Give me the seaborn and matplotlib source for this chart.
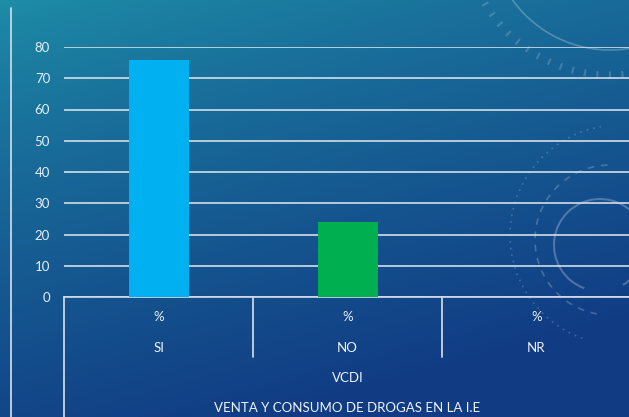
import numpy as np
import pandas as pd
import seaborn as sns
import matplotlib.pyplot as plt
from matplotlib.patches import Arc, Circle
from matplotlib.lines import Line2D

# ---- data ----
categories = ["SI", "NO", "NR"]
values = [76, 24, 0]
unit_labels = ["%", "%", "%"]
group_label = "VCDI"
axis_title = "VENTA Y CONSUMO DE DROGAS EN LA I.E"
yticks = [0, 10, 20, 30, 40, 50, 60, 70, 80]
bar_colors = ["#00B0F0", "#00B050", "#A5A5A5"]

df = pd.DataFrame({"cat": categories, "val": values})

sns.set_theme(style="white")
plt.rcParams['font.family'] = ['Lato', 'DejaVu Sans']

W, H = 629, 417
fig = plt.figure(figsize=(W / 100, H / 100), dpi=100)

# ---- gradient background ----
bg = fig.add_axes([0, 0, 1, 1])
bg.set_axis_off()
yy, xx = np.mgrid[0:H, 0:W]
t = np.clip(0.85 * yy / H + 0.35 * xx / W, 0, 1) ** 0.8
c0 = np.array([30, 142, 168]) / 255.0
c1 = np.array([17, 60, 132]) / 255.0
img = c0[None, None, :] * (1 - t[..., None]) + c1[None, None, :] * t[..., None]
bg.imshow(img, extent=[0, W, H, 0], aspect='auto', zorder=0)
bg.set_xlim(0, W)
bg.set_ylim(H, 0)

# decorative faint shapes (y axis inverted: angles measured clockwise on screen)
bg.add_patch(Arc((610, -70), 240, 240, theta1=40, theta2=150, color='white', alpha=0.25, lw=1.2))
bg.add_patch(Arc((610, -70), 290, 290, theta1=60, theta2=170, color='white', alpha=0.18, lw=5, ls=(0, (0.3, 1.5))))
bg.add_patch(Arc((600, 245), 92, 92, theta1=110, theta2=420, color='white', alpha=0.25, lw=1.5))
bg.add_patch(Arc((610, 240), 150, 150, theta1=100, theta2=270, color='white', alpha=0.22, lw=1.2, ls=(0, (4, 4))))
bg.add_patch(Arc((620, 235), 220, 220, theta1=110, theta2=260, color='white', alpha=0.2, lw=1.2, ls=(0, (1, 3))))

# outer frame line
bg.add_line(Line2D([11, 11], [8, H], color='#c8d6e6', lw=1.3))

# ---- chart axes ----
ax = fig.add_axes([64 / W, 120 / H, 567 / W, 250 / H])
ax.set_facecolor('none')
sns.barplot(data=df, x="cat", y="val", hue="cat", palette=bar_colors,
            width=60 / 189, legend=False, ax=ax, zorder=3, saturation=1,
            linewidth=0, edgecolor='none')

ax.set_xlim(-0.5, 2.5)
ax.set_ylim(0, 80)
ax.set_yticks(yticks)
ax.set_yticklabels([str(v) for v in yticks], color='#e6eef6', fontsize=9.5)
ax.tick_params(axis='y', length=0, pad=10)
ax.set_xticks([])
ax.set_xlabel("")
ax.set_ylabel("")
ax.yaxis.grid(True, color='#d2dee8', lw=1.2)
ax.set_axisbelow(True)
for s in ['left', 'right', 'top']:
    ax.spines[s].set_visible(False)
ax.spines['bottom'].set_color('#d2dee8')
ax.spines['bottom'].set_linewidth(1.2)

tr = ax.get_xaxis_transform()
lc = '#c8d6e6'
# multi-level category dividers
ax.add_line(Line2D([-0.5, -0.5], [0, -0.48], transform=tr, color=lc, lw=1.3, clip_on=False))
for xd in [0.5, 1.5]:
    ax.add_line(Line2D([xd, xd], [0, -0.24], transform=tr, color=lc, lw=1.3, clip_on=False))

tc = '#eef3f8'
for i, (u, c) in enumerate(zip(unit_labels, categories)):
    ax.text(i, -0.08, u, transform=tr, ha='center', va='center', color=tc, fontsize=9.5)
    ax.text(i, -0.204, c, transform=tr, ha='center', va='center', color=tc, fontsize=9.5)
ax.text(1, -0.324, group_label, transform=tr, ha='center', va='center', color=tc, fontsize=9.5)
ax.text(1, -0.444, axis_title, transform=tr, ha='center', va='center', color=tc, fontsize=9.5)

fig.savefig("out.png", dpi=100)
